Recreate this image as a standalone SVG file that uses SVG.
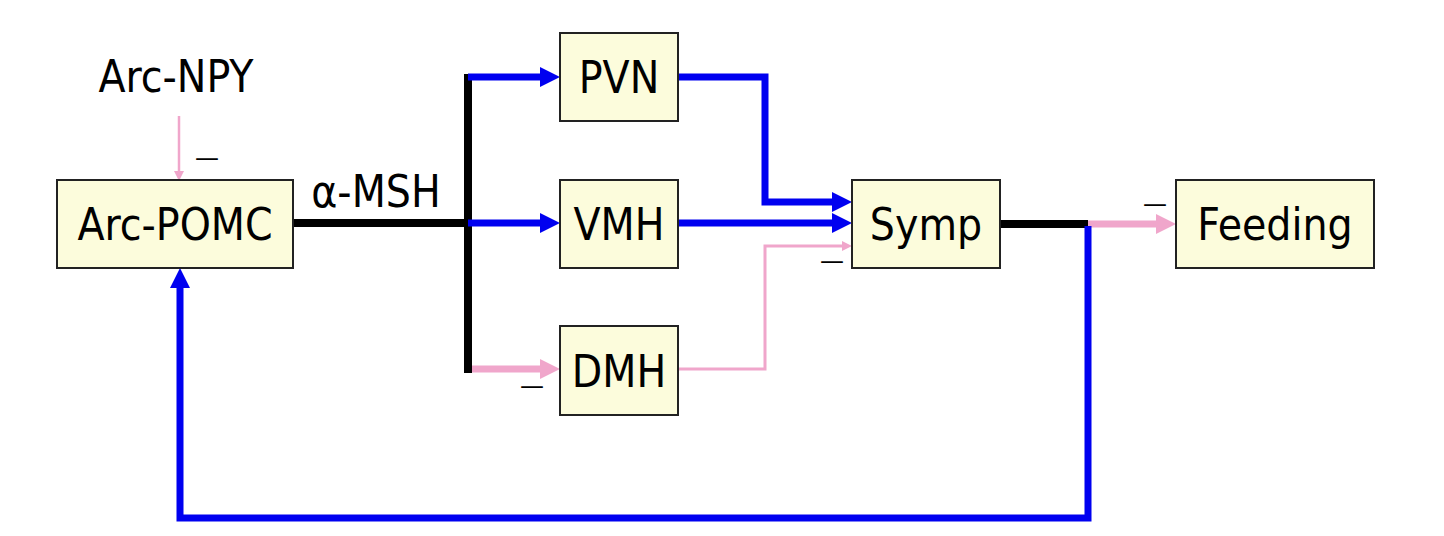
<svg xmlns="http://www.w3.org/2000/svg" width="1444" height="536" viewBox="0 0 1444 536">
<style>
.box{fill:#fcfcdc;stroke:#222;stroke-width:2}
.lbl{font-family:"DejaVu Sans Condensed","DejaVu Sans",Verdana,sans-serif;font-stretch:condensed;font-size:44px;fill:#000;text-anchor:middle}
.neg{font-family:"DejaVu Sans",sans-serif;font-size:24px;fill:#000;text-anchor:middle}
.blue{fill:none;stroke:#0000f0;stroke-width:7}
.black{fill:none;stroke:#000;stroke-width:8}
.pink{fill:none;stroke:#f0a6cb;stroke-width:7}
.pinkthin{fill:none;stroke:#f0a6cb;stroke-width:3}
</style>
<defs>
<marker id="ab" markerUnits="userSpaceOnUse" markerWidth="20" markerHeight="20" refX="0" refY="10" orient="auto"><path d="M0,0 L20,10 L0,20 z" fill="#0000f0"/></marker>
<marker id="ap" markerUnits="userSpaceOnUse" markerWidth="20" markerHeight="20" refX="0" refY="10" orient="auto"><path d="M0,0 L20,10 L0,20 z" fill="#f0a6cb"/></marker>
<marker id="aps" markerUnits="userSpaceOnUse" markerWidth="10" markerHeight="10" refX="0" refY="5" orient="auto"><path d="M0,0 L10,5 L0,10 z" fill="#f0a6cb"/></marker>
</defs>
<rect width="1444" height="536" fill="#fff"/>
<g id="connectors">
<path d="M179,116 V171" fill="none" stroke="#f0a6cb" stroke-width="2.5" marker-end="url(#aps)"/>
<path class="black" d="M293,223 H472"/>
<path class="black" d="M468,74 V373"/>
<path class="blue" d="M468,77 H540" marker-end="url(#ab)"/>
<path class="blue" d="M468,223 H540" marker-end="url(#ab)"/>
<path class="pink" d="M472,369 H540" marker-end="url(#ap)"/>
<path class="blue" d="M678,77 H765 V202 H832" marker-end="url(#ab)"/>
<path class="blue" d="M678,223 H832" marker-end="url(#ab)"/>
<path class="pinkthin" d="M678,369 H765 V246 H842" marker-end="url(#aps)"/>
<path class="black" d="M1000,224 H1088" stroke-width="7"/>
<path class="pink" d="M1088,224 H1156" marker-end="url(#ap)"/>
<path class="blue" d="M1088,226 V518 H180 V288" marker-end="url(#ab)"/>
</g>
<g id="arc-npy"><text class="lbl" x="176" y="92">Arc-NPY</text></g>
<g id="arc-pomc"><rect class="box" x="57" y="180" width="236" height="88"/><text class="lbl" x="175" y="240">Arc-POMC</text></g>
<g id="msh-label"><text class="lbl" x="376" y="207">α-MSH</text></g>
<g id="pvn"><rect class="box" x="560" y="33" width="118" height="88"/><text class="lbl" x="619" y="93">PVN</text></g>
<g id="vmh"><rect class="box" x="560" y="180" width="118" height="88"/><text class="lbl" x="619" y="240">VMH</text></g>
<g id="dmh"><rect class="box" x="560" y="326" width="118" height="89"/><text class="lbl" x="619" y="387">DMH</text></g>
<g id="symp"><rect class="box" x="852" y="180" width="148" height="88"/><text class="lbl" x="926" y="240">Symp</text></g>
<g id="feeding"><rect class="box" x="1176" y="180" width="198" height="88"/><text class="lbl" x="1275" y="240">Feeding</text></g>
<g id="signs">
<text class="neg" x="207" y="166">—</text>
<text class="neg" x="532" y="394">—</text>
<text class="neg" x="832" y="269">—</text>
<text class="neg" x="1155" y="212">—</text>
</g>
</svg>
